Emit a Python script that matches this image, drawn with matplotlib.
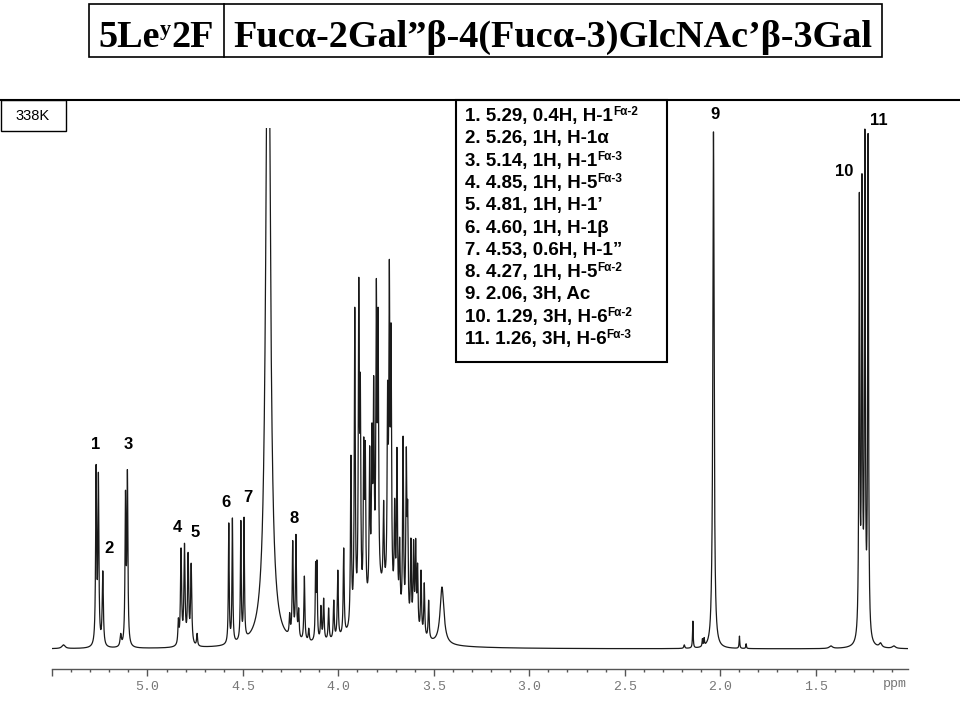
import numpy as np
import matplotlib
matplotlib.use("Agg")
import matplotlib.pyplot as plt
from matplotlib.patches import Rectangle
from matplotlib.lines import Line2D

# ---------------- data ----------------
# spectrum lines: chemical shift (ppm), apparent height
# (relative to the top of peak 9), half width at half height (ppm)
peak_ppm = [5.44, 5.269, 5.257, 5.234, 5.140, 5.115, 5.105,
            4.838, 4.824, 4.806, 4.787, 4.771, 4.740,
            4.574, 4.555, 4.511, 4.494, 4.368,
            4.255, 4.239, 4.222, 4.208, 4.178, 4.155, 4.119, 4.112,
            4.091, 4.077, 4.051, 4.024, 4.003, 3.972, 3.934, 3.914, 3.893, 3.885,
            3.867, 3.859, 3.836, 3.824, 3.815, 3.801, 3.792, 3.763, 3.742, 3.733,
            3.724, 3.705, 3.693, 3.679, 3.661, 3.644, 3.637, 3.620, 3.606, 3.595,
            3.585, 3.567, 3.550, 3.527, 3.457,
            2.188, 2.143, 2.093, 2.084, 2.045, 2.035, 1.899, 1.864,
            1.42, 1.271, 1.257, 1.242, 1.225, 1.16, 1.09]
peak_height = [0.008, 0.355, 0.34, 0.15, 0.03, 0.305, 0.345,
               0.06, 0.194, 0.203, 0.186, 0.165, 0.03,
               0.242, 0.253, 0.248, 0.253, 1.43,
               0.07, 0.209, 0.22, 0.079, 0.14, 0.04, 0.168, 0.171,
               0.084, 0.098, 0.079, 0.094, 0.152, 0.194, 0.372, 0.656, 0.714, 0.53,
               0.407, 0.40, 0.39, 0.434, 0.526, 0.712, 0.656, 0.286, 0.516, 0.75,
               0.626, 0.29, 0.388, 0.215, 0.41, 0.388, 0.286, 0.213, 0.21, 0.213,
               0.165, 0.152, 0.127, 0.094, 0.119,
               0.008, 0.054, 0.02, 0.022, 0.15, 0.995, 0.025, 0.01,
               0.006, 0.88, 0.917, 0.998, 0.994, 0.012, 0.006]
peak_hwhm = [0.01, 0.003, 0.003, 0.0035, 0.004, 0.003, 0.003,
             0.003, 0.0035, 0.0035, 0.0035, 0.0035, 0.003,
             0.0025, 0.0025, 0.0025, 0.0025, 0.0133,
             0.003, 0.003, 0.003, 0.003, 0.003, 0.003, 0.0025, 0.0025,
             0.003, 0.003, 0.003, 0.003, 0.003, 0.003, 0.003, 0.003, 0.003, 0.003,
             0.003, 0.003, 0.003, 0.003, 0.003, 0.003, 0.003, 0.003, 0.003, 0.003,
             0.003, 0.003, 0.003, 0.003, 0.003, 0.003, 0.003, 0.003, 0.003, 0.003,
             0.003, 0.003, 0.003, 0.003, 0.012,
             0.003, 0.002, 0.002, 0.002, 0.004, 0.004, 0.002, 0.002,
             0.01, 0.0027, 0.0027, 0.0027, 0.0027, 0.008, 0.01]
# broad unresolved envelope under the 3.5-4.0 ppm sugar ring region
hump_ppm = [3.78]
hump_height = [0.10]
hump_hwhm = [0.09]

# peak number labels: label, ppm position, height of label centre
label_text = ["1", "3", "2", "4", "5", "6", "7", "8", "9", "10", "11"]
label_ppm = [5.272, 5.099, 5.199, 4.843, 4.749, 4.586, 4.476, 4.230, 2.026, 1.351, 1.168]
label_h = [0.393, 0.393, 0.192, 0.234, 0.223, 0.282, 0.290, 0.250, 1.025, 0.916, 1.015]

assign_main = ["1. 5.29, 0.4H, H-1", "2. 5.26, 1H, H-1\u03b1", "3. 5.14, 1H, H-1",
               "4. 4.85, 1H, H-5", "5. 4.81, 1H, H-1\u2019", "6. 4.60, 1H, H-1\u03b2",
               "7. 4.53, 0.6H, H-1\u201d", "8. 4.27, 1H, H-5", "9. 2.06, 3H, Ac",
               "10. 1.29, 3H, H-6", "11. 1.26, 3H, H-6"]
assign_sup = ["F\u03b1-2", "", "F\u03b1-3", "F\u03b1-3", "", "", "", "F\u03b1-2", "",
              "F\u03b1-2", "F\u03b1-3"]

x_ticks = [5.0, 4.5, 4.0, 3.5, 3.0, 2.5, 2.0, 1.5]
x_tick_labels = ["5.0", "4.5", "4.0", "3.5", "3.0", "2.5", "2.0", "1.5"]

# ---------------- spectrum from the line list ----------------
pos = np.array(peak_ppm)
gam = np.array(peak_hwhm)
obs = np.array(peak_height)


def lorentz(x, p, g):
    return g ** 2 / ((x[:, None] - p[None, :]) ** 2 + g[None, :] ** 2)


hp, hh, hg = np.array(hump_ppm), np.array(hump_height), np.array(hump_hwhm)
# amplitudes such that the summed trace reproduces the read heights at each line
A = lorentz(pos, pos, gam)
target = obs - (lorentz(pos, hp, hg) * hh[None, :]).sum(axis=1)
amp = np.clip(np.linalg.solve(A, target), 0.003, None)

ppm = np.arange(5.5, 1.0, -0.0004)
spec = (lorentz(ppm, pos, gam) * amp[None, :]).sum(axis=1) + \
       (lorentz(ppm, hp, hg) * hh[None, :]).sum(axis=1)

# ---------------- figure ----------------
W, H = 960, 720
fig = plt.figure(figsize=(9.6, 7.2), dpi=100)
fig.patch.set_facecolor("white")


def fx(x):
    return x / W


def fy(y):
    return 1 - y / H


ax = fig.add_axes([fx(52), fy(669), (908 - 52) / W, (669 - 128) / H])
ax.plot(ppm, spec, color="#1a1a1a", lw=0.9)
ax.set_xlim(5.5, 1.016)
ax.set_ylim(-(669 - 649) / 521, 1.0)
for s in ["top", "left", "right"]:
    ax.spines[s].set_visible(False)
ax.spines["bottom"].set_color("#555555")
ax.spines["bottom"].set_linewidth(1.0)
ax.set_yticks([])
ax.set_xticks([5.5] + x_ticks)
ax.set_xticklabels([""] + x_tick_labels, fontfamily="Liberation Mono",
                   fontsize=9.5, color="#777777")
ax.set_xticks(np.arange(5.4, 1.05, -0.1), minor=True)
ax.tick_params(axis="x", which="major", direction="out", length=5, width=1,
               color="#555555", pad=4)
ax.tick_params(axis="x", which="minor", direction="out", length=2.5, width=1,
               color="#555555")
ax.patch.set_alpha(0)

for t, p, h in zip(label_text, label_ppm, label_h):
    ax.text(p, h, t, ha="center", va="center", fontsize=12, fontweight="bold",
            family="Liberation Sans")

fig.text(fx(883), fy(684), "ppm", fontfamily="Liberation Mono", fontsize=9.5,
         color="#777777", ha="left", va="center")

# horizontal rule at top of spectrum panel
fig.add_artist(Line2D([0, 1], [fy(100), fy(100)], color="black", lw=1.5))

# 338K box
fig.add_artist(Rectangle((fx(0.5), fy(131)), fx(65), (131 - 100) / H, fill=False,
                         edgecolor="black", lw=1.0))
fig.text(fx(33), fy(116), "338K", ha="center", va="center", fontsize=10.5,
         family="Liberation Sans")

renderer = fig.canvas.get_renderer()


def chain(x, y, pieces, ha="left"):
    """pieces: (text, size, rise_px, weight, family)"""
    arts = []
    for s, size, rise, wt, fam in pieces:
        t = fig.text(fx(x), fy(y + 0) + rise / H, s, fontsize=size, fontweight=wt,
                     family=fam, ha="left", va="baseline")
        arts.append(t)
    widths = [a.get_window_extent(renderer).width for a in arts]
    total = sum(widths)
    x0 = x - (total / 2 if ha == "center" else 0)
    for a, w in zip(arts, widths):
        a.set_x(fx(x0))
        x0 += w
    return arts


# title box
fig.add_artist(Rectangle((fx(89), fy(57)), (882 - 89) / W, (57 - 4) / H, fill=False,
                         edgecolor="black", lw=1.2))
fig.add_artist(Line2D([fx(224), fx(224)], [fy(57), fy(4)], color="black", lw=1.2))
serif = "Liberation Serif"
chain(156, 47, [("5Le", 27.5, 0, "bold", serif), ("y", 16, 12, "bold", serif),
                ("2F", 27.5, 0, "bold", serif)], ha="center")
chain(553, 47, [("Fuc\u03b1-2Gal\u201d\u03b2-4(Fuc\u03b1-3)GlcNAc\u2019\u03b2-3Gal", 27.5, 0,
                 "bold", serif)], ha="center")

# assignment box
fig.add_artist(Rectangle((fx(456), fy(362)), (667 - 456) / W, (362 - 100) / H,
                         fill=False, edgecolor="black", lw=1.5))
for i, (m, s) in enumerate(zip(assign_main, assign_sup)):
    yb = 121 + i * 22.3
    pieces = [(m, 13.5, 0, "bold", "Liberation Sans")]
    if s:
        pieces.append((s, 8.5, 6, "bold", "Liberation Sans"))
    chain(465, yb, pieces)

fig.savefig("out.png", dpi=100, facecolor="white")
